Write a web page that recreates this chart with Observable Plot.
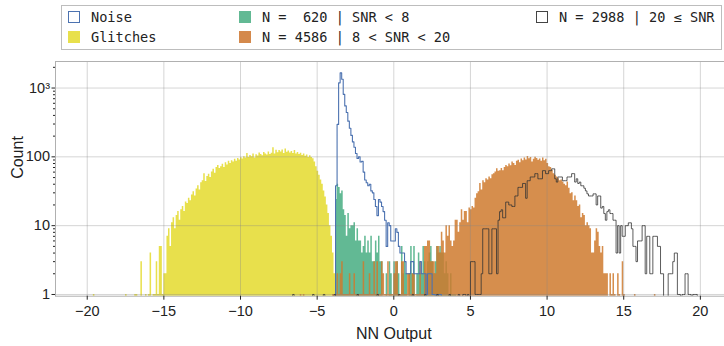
<!DOCTYPE html>
<html><head><meta charset="utf-8">
<script src="https://cdn.jsdelivr.net/npm/d3@7"></script>
<script src="https://cdn.jsdelivr.net/npm/@observablehq/plot@0.6"></script>
<style>
html,body{margin:0;padding:0;background:#fff;}
#wrap{position:relative;width:724px;height:346px;overflow:hidden;background:#fff;}
#legend{position:absolute;left:61px;top:5px;width:661px;height:45px;border:1px solid #bdbdbd;box-sizing:border-box;font-family:"DejaVu Sans Mono",monospace;font-size:13.6px;color:#222;}
.item{position:absolute;white-space:pre;display:flex;align-items:center;height:16px;line-height:16px;}
.sw{width:12px;height:12px;box-sizing:border-box;margin-right:11px;flex:none;}
#chart{position:absolute;left:0;top:55px;}
</style></head><body>
<div id="wrap"><div id="legend"></div><div id="chart"></div></div>
<script>
// ---- data: histogram counts, bin width 0.1 on NN Output ----
const binWidth = 0.1;

const glitchStart = -19.6;
const glitchCounts = [
 1,0,0,0,0,0,0,0,0,0,
 0,0,0,0,0,0,0,0,0,0,
 0,1,0,0,0,0,0,1,1,0,
 0,3,0,0,1,0,1,4,0,1,
 1,3,1,5,5,1,2,2,7,9,
 5,11,13,9,14,16,12,17,19,16,
 22,21,25,23,28,31,27,34,38,33,
 42,45,57,44,52,56,50,60,66,58,
 70,75,68,72,78,70,82,76,86,80,
 88,84,92,86,95,90,97,93,100,96,
 112,98,105,100,110,96,107,103,114,108,
 104,116,110,106,118,108,113,136,110,125,
 115,124,118,126,112,130,117,122,114,120,
 112,124,110,116,108,113,105,110,102,106,
 98,104,98,94,84,72,62,54,46,40,
 32,26,20,15,10,7,4,2];

const noiseStart = -3.8;
const noiseCounts = [
 38,296,1190,1660,1340,810,550,440,330,260,
 205,165,138,112,95,100,84,86,60,46,
 42,38,40,32,30,24,19,14,24,22,
 19,16,12,5,11,10,6,6,6,9,
 8,5,4,4,4,3,2,2,2,3,
 3,2,2,2,2,3,2,2,2,1,
 2,2,2,1,1,0,1,1,1];

const lowStart = -3.8;          // N = 620 | SNR < 8
const lowCounts = [
 24,40,36,29,32,17,14,7,15,9,
 10,10,11,6,9,6,6,4,5,7,
 4,6,4,7,3,3,6,4,7,3,
 3,0,0,2,0,3,2,0,3,2,
 3,2,0,5,2,3,2,0,2,5,
 2,5,0,2,4,2,2,5,3,2,
 3,4,5,3,2,3,5,4,5,4,
 4,2,3,2,1,2,1,1,1];

const midStart = -6.1;          // N = 4586 | 8 < SNR < 20
const midCounts = [
 1,0,1,0,0,0,0,0,0,0,
 0,0,0,0,0,0,0,0,0,0,
 0,1,1,1,2,1,2,3,1,1,
 1,1,2,1,1,2,1,1,1,1,
 1,3,1,1,1,2,1,1,3,1,
 3,1,1,3,2,1,1,3,1,1,
 1,2,3,3,1,1,3,3,1,1,
 2,2,1,2,2,1,1,1,3,1,
 1,5,5,6,6,3,3,3,2,5,
 5,4,8,6,4,10,7,10,6,5,
 6,12,12,8,11,17,12,16,16,11,
 18,17,19,18,25,29,31,41,33,45,
 42,48,46,51,48,55,57,60,67,62,
 63,68,63,70,75,72,79,74,84,80,
 75,86,89,82,93,88,96,90,101,94,
 98,84,92,99,95,89,93,86,96,88,
 92,80,72,70,64,57,54,51,48,45,
 46,43,40,38,43,35,29,30,23,27,
 23,19,20,13,15,14,10,11,10,9,
 4,4,6,9,8,5,4,5,2,2,
 2,0,2,1,2,1,0,2,1,0,
 3,1,0,0,0,0,0,0,1,0,
 0,0,0,0,0,0,0,0,0,0,
 0,1];

const highStrayBins = [-6.6,-5.3,-4.6,-3.9,-2.4,-1.1,0.3,1.2,2.0,2.8,3.6,4.2,4.5,4.6,4.8]; // single counts
const highStart = 5.0;          // N = 2988 | 20 ≤ SNR
const highCounts = [
 3,3,3,1,1,1,1,2,9,9,
 9,9,2,2,9,9,9,2,12,16,
 17,13,13,22,22,20,20,19,19,27,
 27,36,36,36,41,41,25,45,45,51,
 51,51,57,57,48,48,48,63,63,57,
 57,63,63,67,67,48,43,51,51,51,
 45,45,45,51,51,51,57,57,43,48,
 41,43,38,38,35,32,29,27,27,27,
 29,29,20,27,27,18,19,15,12,16,
 17,15,15,12,12,4,10,4,10,7,
 7,10,10,11,11,9,5,5,3,6,
 6,6,10,10,2,7,7,2,2,7,
 7,7,5,5,2,2,0,0,0,2,
 2,2,3,4,4,1,1,0,1,1,
 2,2,1,1,0,1,1,1];

const legendLabels = ["Noise","Glitches","N =  620 | SNR < 8","N = 4586 | 8 < SNR < 20","N = 2988 | 20 \u2264 SNR"];
const xTicks = [-20,-15,-10,-5,0,5,10,15,20];
const yTicks = [1,10,100,1000];
const yMinorTicks = [2,3,4,5,6,7,8,9,20,30,40,50,60,70,80,90,200,300,400,500,600,700,800,900,2000];

// ---- build tables ----
const FLOOR = 0.3;
const toIdx = x => Math.round((x + 20) / binWidth);
function binsFrom(start, counts){ const s = toIdx(start); return counts.map((c,i)=>({i:s+i, c})); }
function highBins(){
  const m = new Map();
  highStrayBins.forEach(x => m.set(toIdx(x), 1));
  binsFrom(highStart, highCounts).forEach(d => m.set(d.i, d.c));
  const lo = d3.min(m.keys()), hi = d3.max(m.keys());
  return d3.range(lo, hi + 1).map(i => ({i, c: m.get(i) || 0}));
}
function fillPts(bins){
  const p = bins.map(d => ({x: -20 + d.i*binWidth, y: d.c > 0 ? d.c : FLOOR}));
  const last = bins[bins.length-1];
  p.push({x: -20 + (last.i+1)*binWidth, y: last.c > 0 ? last.c : FLOOR});
  return p;
}
function stepPts(bins){
  const p = fillPts(bins);
  return [{x: p[0].x, y: FLOOR}, ...p, {x: p[p.length-1].x, y: FLOOR}];
}
const glitchPts = fillPts(binsFrom(glitchStart, glitchCounts));
const lowPts = fillPts(binsFrom(lowStart, lowCounts));
const midPts = fillPts(binsFrom(midStart, midCounts));
const noisePts = stepPts(binsFrom(noiseStart, noiseCounts));
const highPts = stepPts(highBins());

const colors = {noise:"#4c72b0", glitch:"#e8e04c", low:"#62b994", mid:"#cf7a2e", high:"#333333"};
const fmtX = d => d < 0 ? "\u2212" + (-d) : String(d);
const fmtY = d => d === 1000 ? "10\u00b3" : String(d);

const chart = Plot.plot({
  width: 732, height: 291,
  marginLeft: 55, marginRight: 0.4, marginTop: 6, marginBottom: 50.3,
  style: {maxWidth: "none", fontFamily: '"Liberation Sans", Arial, sans-serif', fontSize: "14.5px", color: "#222", background: "transparent"},
  x: {domain: [-22.07, 22.07]},
  y: {type: "log", domain: [0.944, 2430]},
  marks: [
    Plot.area(glitchPts, {x1: "x", y1: () => FLOOR, y2: "y", curve: "step-after", fill: colors.glitch, clip: true}),
    Plot.area(lowPts, {x1: "x", y1: () => FLOOR, y2: "y", curve: "step-after", fill: colors.low, clip: true}),
    Plot.area(midPts, {x1: "x", y1: () => FLOOR, y2: "y", curve: "step-after", fill: colors.mid, fillOpacity: 0.85, clip: true}),
    Plot.gridX(xTicks, {stroke: "#888", strokeOpacity: 0.35}),
    Plot.gridY(yTicks, {stroke: "#888", strokeOpacity: 0.35}),
    Plot.line(noisePts, {x: "x", y: "y", curve: "step-after", stroke: colors.noise, strokeWidth: 1.1, clip: true}),
    Plot.line(highPts, {x: "x", y: "y", curve: "step-after", stroke: colors.high, strokeWidth: 1, strokeOpacity: 0.8, clip: true}),
    Plot.frame({stroke: "#b0b0b0"}),
    Plot.axisX(xTicks, {tickFormat: fmtX, tickSize: 4, tickPadding: 6, label: null}),
    Plot.axisY(yTicks, {tickFormat: fmtY, tickSize: 3.5, tickPadding: 2, label: null}),
    Plot.axisY(yMinorTicks, {tickFormat: () => "", tickSize: 2, label: null}),
    Plot.text(["NN Output"], {frameAnchor: "bottom", dy: 43, fontSize: 16, fill: "#222"}),
    Plot.text(["Count"], {frameAnchor: "left", dx: -38, rotate: -90, fontSize: 16, fill: "#222"})
  ]
});
document.getElementById("chart").appendChild(chart);

// ---- legend ----
const legend = document.getElementById("legend");
const items = [
  {label: legendLabels[0], x: 6, y: 3, fill: "#fff", stroke: colors.noise},
  {label: legendLabels[1], x: 6, y: 23, fill: colors.glitch, stroke: colors.glitch},
  {label: legendLabels[2], x: 177, y: 3, fill: colors.low, stroke: colors.low},
  {label: legendLabels[3], x: 177, y: 23, fill: "#d4894c", stroke: "#d4894c"},
  {label: legendLabels[4], x: 474, y: 3, fill: "#fff", stroke: "#444"}
];
items.forEach(it => {
  const d = document.createElement("div");
  d.className = "item"; d.style.left = it.x + "px"; d.style.top = it.y + "px";
  const s = document.createElement("span"); s.className = "sw";
  s.style.background = it.fill; s.style.border = "1px solid " + it.stroke;
  const t = document.createElement("span"); t.textContent = it.label;
  d.appendChild(s); d.appendChild(t); legend.appendChild(d);
});
</script>
</body></html>
